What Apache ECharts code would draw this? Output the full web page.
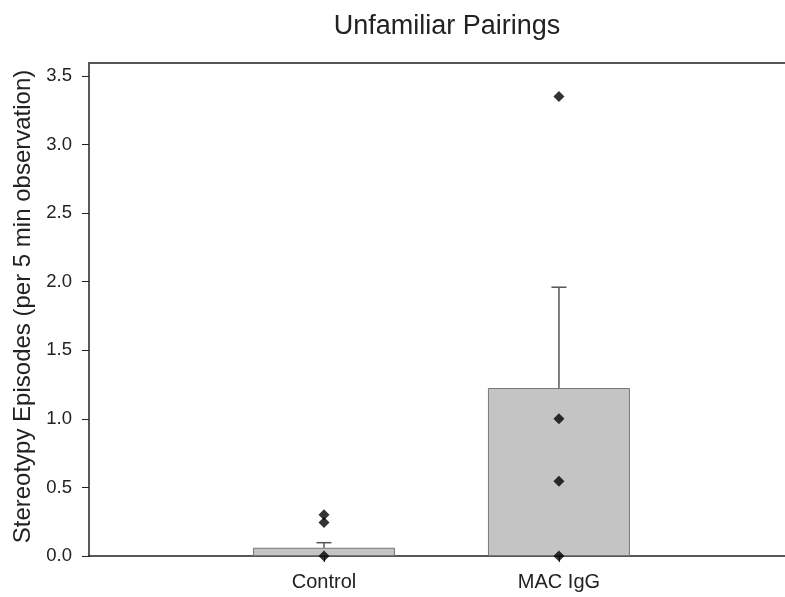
<!DOCTYPE html>
<html><head><meta charset="utf-8">
<script src="https://cdn.jsdelivr.net/npm/echarts@6/dist/echarts.min.js"></script>
<style>html,body{margin:0;padding:0;background:#fff}#c{width:785px;height:597px}</style>
</head><body><div id="c"></div>
<script>
var categories = ['Control', 'MAC IgG'];
var categoryPos = [1, 2];
var means = [0.06, 1.225];
var errUpper = [0.097, 1.96];
var controlPoints = [0.30, 0.245, 0];
var macPoints = [3.35, 1.0, 0.545, 0];
var yTicks = [0, 0.5, 1.0, 1.5, 2.0, 2.5, 3.0, 3.5];

var chart = echarts.init(document.getElementById('c'));
var font = 'Liberation Sans, Arial, sans-serif';
var pts = [];
controlPoints.forEach(function(v){ pts.push([categoryPos[0], v]); });
macPoints.forEach(function(v){ pts.push([categoryPos[1], v]); });

chart.setOption({
  animation: false,
  title: {
    text: 'Unfamiliar Pairings', left: 442, top: 8, textAlign: 'center',
    textStyle: { fontFamily: font, fontSize: 27, fontWeight: 'normal', color: '#222' }
  },
  grid: { left: 89, top: 63, right: 0, height: 493, containLabel: false },
  xAxis: [{
    type: 'value', min: 0, max: 2.962,
    splitLine: { show: false },
    axisLine: { show: true, onZero: false, lineStyle: { color: '#222', width: 1.5 } },
    axisTick: { show: true, length: 6, customValues: categoryPos, lineStyle: { color: '#222' } },
    axisLabel: {
      customValues: categoryPos, margin: 16,
      fontFamily: font, fontSize: 20, color: '#222',
      formatter: function(v){ var i = categoryPos.indexOf(v); return i >= 0 ? categories[i] : ''; }
    }
  }, {
    type: 'value', position: 'top', min: 0, max: 2.962,
    splitLine: { show: false },
    axisLine: { show: true, onZero: false, lineStyle: { color: '#555', width: 2 } },
    axisTick: { show: false }, axisLabel: { show: false }
  }],
  yAxis: {
    type: 'value', min: 0, max: 3.595,
    name: 'Stereotypy Episodes (per 5 min observation)',
    nameLocation: 'middle', nameGap: 52,
    nameTextStyle: { fontFamily: font, fontSize: 24, color: '#222', padding: [0, 0, 0, 6] },
    splitLine: { show: false },
    axisLine: { show: true, lineStyle: { color: '#222', width: 1.5 } },
    axisTick: { show: true, length: 7, inside: false, customValues: yTicks, lineStyle: { color: '#222' } },
    axisLabel: {
      customValues: yTicks, margin: 17, fontFamily: font, fontSize: 18.5, color: '#222',
      formatter: function(v){ return v.toFixed(1); }
    }
  },
  series: [{
    type: 'bar', xAxisIndex: 0, barWidth: 142,
    data: categoryPos.map(function(x, i){ return [x, means[i]]; }),
    itemStyle: { color: '#c4c4c4', borderColor: '#777', borderWidth: 1 },
    z: 1
  }, {
    type: 'custom', xAxisIndex: 0,
    data: categoryPos.map(function(x, i){ return [x, means[i], errUpper[i]]; }),
    renderItem: function(params, api){
      var p0 = api.coord([api.value(0), api.value(1)]);
      var p1 = api.coord([api.value(0), api.value(2)]);
      var st = { stroke: '#555', lineWidth: 1.5 };
      return { type: 'group', children: [
        { type: 'line', shape: { x1: p0[0], y1: p0[1], x2: p1[0], y2: p1[1] }, style: st },
        { type: 'line', shape: { x1: p1[0]-7.5, y1: p1[1], x2: p1[0]+7.5, y2: p1[1] }, style: st }
      ]};
    },
    z: 2
  }, {
    type: 'scatter', xAxisIndex: 0, symbol: 'diamond', symbolSize: [11, 11],
    data: pts, itemStyle: { color: '#000' }, z: 3
  }]
});
</script></body></html>
